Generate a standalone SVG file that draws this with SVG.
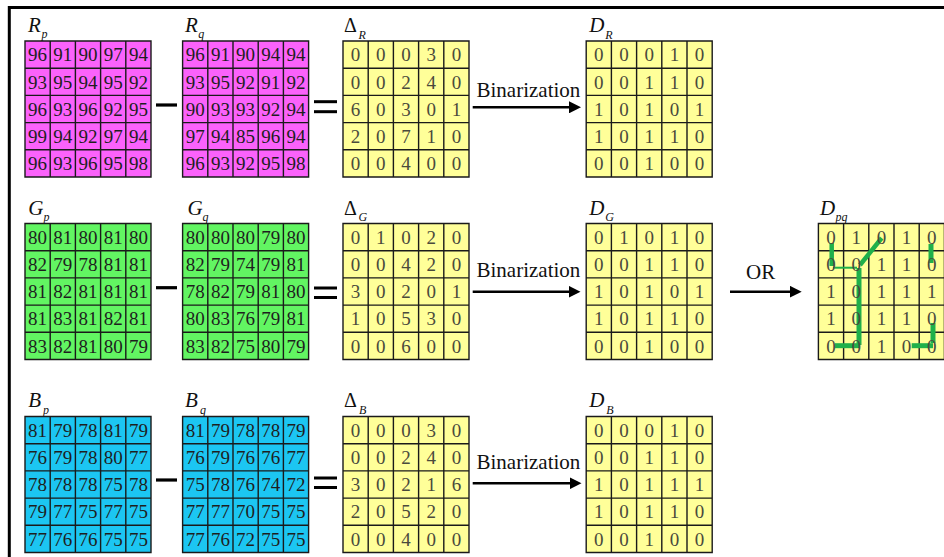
<svg xmlns="http://www.w3.org/2000/svg" xmlns:xlink="http://www.w3.org/1999/xlink" width="944" height="557" viewBox="0 0 944 557">
<style>
text{font-family:"Liberation Serif","Times New Roman",serif}
.num{font-size:19px;text-anchor:middle;fill:#1e1e1e}
.y .num{fill:#4a4a3c}
.lab{font-size:21px;font-style:italic;fill:#111}
.delta{font-size:20px;fill:#111}
.sub{font-size:12px;font-style:italic;fill:#111}
.gridl{fill:none;stroke:#1a1a1a;stroke-width:1.4}
.pink{fill:#fb62fb}.green{fill:#62f562}.blue{fill:#1cc6f2}.yellow{fill:#ffff99}
.op{stroke:#000;stroke-width:3.2}
.arrow{stroke:#000;stroke-width:2.6;fill:none;marker-end:url(#ah)}
.gp{stroke:#1fb04a;stroke-width:5;fill:none}
.cap{font-size:21px;fill:#111}
.frame{stroke:#000;stroke-width:3;fill:none}
</style>
<defs>
<path id="grid" class="gridl" d="M0,0H126V136H0Z M25.2,0V136 M50.4,0V136 M75.6,0V136 M100.8,0V136 M0,27.2H126 M0,54.4H126 M0,81.6H126 M0,108.8H126"/>
<marker id="ah" markerWidth="13" markerHeight="12" refX="2" refY="6" orient="auto" markerUnits="userSpaceOnUse"><path d="M0,0L12,6L0,12Z" fill="#000"/></marker>
</defs>
<rect width="944" height="557" fill="#fff"/>
<path class="frame" d="M9.3,557V7.5H944"/>

<!-- Row R -->
<g id="Rp" transform="translate(25,41)">
<rect class="pink" width="126" height="136"/>
<text class="lab" x="3" y="-9.3">R</text><text class="sub" x="16.5" y="-3">p</text>
<g class="num">
<text y="20.3"><tspan x="12.6">96</tspan><tspan x="37.8">91</tspan><tspan x="63">90</tspan><tspan x="88.2">97</tspan><tspan x="113.4">94</tspan></text>
<text y="47.5"><tspan x="12.6">93</tspan><tspan x="37.8">95</tspan><tspan x="63">94</tspan><tspan x="88.2">95</tspan><tspan x="113.4">92</tspan></text>
<text y="74.7"><tspan x="12.6">96</tspan><tspan x="37.8">93</tspan><tspan x="63">96</tspan><tspan x="88.2">92</tspan><tspan x="113.4">95</tspan></text>
<text y="101.9"><tspan x="12.6">99</tspan><tspan x="37.8">94</tspan><tspan x="63">92</tspan><tspan x="88.2">97</tspan><tspan x="113.4">94</tspan></text>
<text y="129.1"><tspan x="12.6">96</tspan><tspan x="37.8">93</tspan><tspan x="63">96</tspan><tspan x="88.2">95</tspan><tspan x="113.4">98</tspan></text>
</g>
<use xlink:href="#grid"/>
</g>
<g id="Rq" transform="translate(182.6,41)">
<rect class="pink" width="126" height="136"/>
<text class="lab" x="2.4" y="-9.3">R</text><text class="sub" x="15.7" y="-3">q</text>
<g class="num">
<text y="20.3"><tspan x="12.6">96</tspan><tspan x="37.8">91</tspan><tspan x="63">90</tspan><tspan x="88.2">94</tspan><tspan x="113.4">94</tspan></text>
<text y="47.5"><tspan x="12.6">93</tspan><tspan x="37.8">95</tspan><tspan x="63">92</tspan><tspan x="88.2">91</tspan><tspan x="113.4">92</tspan></text>
<text y="74.7"><tspan x="12.6">90</tspan><tspan x="37.8">93</tspan><tspan x="63">93</tspan><tspan x="88.2">92</tspan><tspan x="113.4">94</tspan></text>
<text y="101.9"><tspan x="12.6">97</tspan><tspan x="37.8">94</tspan><tspan x="63">85</tspan><tspan x="88.2">96</tspan><tspan x="113.4">94</tspan></text>
<text y="129.1"><tspan x="12.6">96</tspan><tspan x="37.8">93</tspan><tspan x="63">92</tspan><tspan x="88.2">95</tspan><tspan x="113.4">98</tspan></text>
</g>
<use xlink:href="#grid"/>
</g>
<g id="dR" class="y" transform="translate(343,41)">
<rect class="yellow" width="126" height="136"/>
<text class="delta" x="1" y="-9.3">Δ</text><text class="sub" x="15.5" y="-2.5">R</text>
<g class="num">
<text y="20.3"><tspan x="12.6">0</tspan><tspan x="37.8">0</tspan><tspan x="63">0</tspan><tspan x="88.2">3</tspan><tspan x="113.4">0</tspan></text>
<text y="47.5"><tspan x="12.6">0</tspan><tspan x="37.8">0</tspan><tspan x="63">2</tspan><tspan x="88.2">4</tspan><tspan x="113.4">0</tspan></text>
<text y="74.7"><tspan x="12.6">6</tspan><tspan x="37.8">0</tspan><tspan x="63">3</tspan><tspan x="88.2">0</tspan><tspan x="113.4">1</tspan></text>
<text y="101.9"><tspan x="12.6">2</tspan><tspan x="37.8">0</tspan><tspan x="63">7</tspan><tspan x="88.2">1</tspan><tspan x="113.4">0</tspan></text>
<text y="129.1"><tspan x="12.6">0</tspan><tspan x="37.8">0</tspan><tspan x="63">4</tspan><tspan x="88.2">0</tspan><tspan x="113.4">0</tspan></text>
</g>
<use xlink:href="#grid"/>
</g>
<g id="DR" class="y" transform="translate(586.2,41)">
<rect class="yellow" width="126" height="136"/>
<text class="lab" x="3.1" y="-9.3">D</text><text class="sub" x="19" y="-2.5">R</text>
<g class="num">
<text y="20.3"><tspan x="12.6">0</tspan><tspan x="37.8">0</tspan><tspan x="63">0</tspan><tspan x="88.2">1</tspan><tspan x="113.4">0</tspan></text>
<text y="47.5"><tspan x="12.6">0</tspan><tspan x="37.8">0</tspan><tspan x="63">1</tspan><tspan x="88.2">1</tspan><tspan x="113.4">0</tspan></text>
<text y="74.7"><tspan x="12.6">1</tspan><tspan x="37.8">0</tspan><tspan x="63">1</tspan><tspan x="88.2">0</tspan><tspan x="113.4">1</tspan></text>
<text y="101.9"><tspan x="12.6">1</tspan><tspan x="37.8">0</tspan><tspan x="63">1</tspan><tspan x="88.2">1</tspan><tspan x="113.4">0</tspan></text>
<text y="129.1"><tspan x="12.6">0</tspan><tspan x="37.8">0</tspan><tspan x="63">1</tspan><tspan x="88.2">0</tspan><tspan x="113.4">0</tspan></text>
</g>
<use xlink:href="#grid"/>
</g>

<!-- Row G -->
<g id="Gp" transform="translate(25,223.5)">
<rect class="green" width="126" height="136"/>
<text class="lab" x="3.3" y="-9">G</text><text class="sub" x="18.5" y="-3">p</text>
<g class="num">
<text y="20.3"><tspan x="12.6">80</tspan><tspan x="37.8">81</tspan><tspan x="63">80</tspan><tspan x="88.2">81</tspan><tspan x="113.4">80</tspan></text>
<text y="47.5"><tspan x="12.6">82</tspan><tspan x="37.8">79</tspan><tspan x="63">78</tspan><tspan x="88.2">81</tspan><tspan x="113.4">81</tspan></text>
<text y="74.7"><tspan x="12.6">81</tspan><tspan x="37.8">82</tspan><tspan x="63">81</tspan><tspan x="88.2">81</tspan><tspan x="113.4">81</tspan></text>
<text y="101.9"><tspan x="12.6">81</tspan><tspan x="37.8">83</tspan><tspan x="63">81</tspan><tspan x="88.2">82</tspan><tspan x="113.4">81</tspan></text>
<text y="129.1"><tspan x="12.6">83</tspan><tspan x="37.8">82</tspan><tspan x="63">81</tspan><tspan x="88.2">80</tspan><tspan x="113.4">79</tspan></text>
</g>
<use xlink:href="#grid"/>
</g>
<g id="Gq" transform="translate(182.6,223.5)">
<rect class="green" width="126" height="136"/>
<text class="lab" x="5" y="-9">G</text><text class="sub" x="20" y="-3">q</text>
<g class="num">
<text y="20.3"><tspan x="12.6">80</tspan><tspan x="37.8">80</tspan><tspan x="63">80</tspan><tspan x="88.2">79</tspan><tspan x="113.4">80</tspan></text>
<text y="47.5"><tspan x="12.6">82</tspan><tspan x="37.8">79</tspan><tspan x="63">74</tspan><tspan x="88.2">79</tspan><tspan x="113.4">81</tspan></text>
<text y="74.7"><tspan x="12.6">78</tspan><tspan x="37.8">82</tspan><tspan x="63">79</tspan><tspan x="88.2">81</tspan><tspan x="113.4">80</tspan></text>
<text y="101.9"><tspan x="12.6">80</tspan><tspan x="37.8">83</tspan><tspan x="63">76</tspan><tspan x="88.2">79</tspan><tspan x="113.4">81</tspan></text>
<text y="129.1"><tspan x="12.6">83</tspan><tspan x="37.8">82</tspan><tspan x="63">75</tspan><tspan x="88.2">80</tspan><tspan x="113.4">79</tspan></text>
</g>
<use xlink:href="#grid"/>
</g>
<g id="dG" class="y" transform="translate(343,223.5)">
<rect class="yellow" width="126" height="136"/>
<text class="delta" x="1" y="-9">Δ</text><text class="sub" x="15.5" y="-2.5">G</text>
<g class="num">
<text y="20.3"><tspan x="12.6">0</tspan><tspan x="37.8">1</tspan><tspan x="63">0</tspan><tspan x="88.2">2</tspan><tspan x="113.4">0</tspan></text>
<text y="47.5"><tspan x="12.6">0</tspan><tspan x="37.8">0</tspan><tspan x="63">4</tspan><tspan x="88.2">2</tspan><tspan x="113.4">0</tspan></text>
<text y="74.7"><tspan x="12.6">3</tspan><tspan x="37.8">0</tspan><tspan x="63">2</tspan><tspan x="88.2">0</tspan><tspan x="113.4">1</tspan></text>
<text y="101.9"><tspan x="12.6">1</tspan><tspan x="37.8">0</tspan><tspan x="63">5</tspan><tspan x="88.2">3</tspan><tspan x="113.4">0</tspan></text>
<text y="129.1"><tspan x="12.6">0</tspan><tspan x="37.8">0</tspan><tspan x="63">6</tspan><tspan x="88.2">0</tspan><tspan x="113.4">0</tspan></text>
</g>
<use xlink:href="#grid"/>
</g>
<g id="DG" class="y" transform="translate(586.2,223.5)">
<rect class="yellow" width="126" height="136"/>
<text class="lab" x="3.1" y="-9">D</text><text class="sub" x="19" y="-2.5">G</text>
<g class="num">
<text y="20.3"><tspan x="12.6">0</tspan><tspan x="37.8">1</tspan><tspan x="63">0</tspan><tspan x="88.2">1</tspan><tspan x="113.4">0</tspan></text>
<text y="47.5"><tspan x="12.6">0</tspan><tspan x="37.8">0</tspan><tspan x="63">1</tspan><tspan x="88.2">1</tspan><tspan x="113.4">0</tspan></text>
<text y="74.7"><tspan x="12.6">1</tspan><tspan x="37.8">0</tspan><tspan x="63">1</tspan><tspan x="88.2">0</tspan><tspan x="113.4">1</tspan></text>
<text y="101.9"><tspan x="12.6">1</tspan><tspan x="37.8">0</tspan><tspan x="63">1</tspan><tspan x="88.2">1</tspan><tspan x="113.4">0</tspan></text>
<text y="129.1"><tspan x="12.6">0</tspan><tspan x="37.8">0</tspan><tspan x="63">1</tspan><tspan x="88.2">0</tspan><tspan x="113.4">0</tspan></text>
</g>
<use xlink:href="#grid"/>
</g>
<g id="Dpq" class="y" transform="translate(818.4,223.5)">
<rect class="yellow" width="126" height="136"/>
<text class="lab" x="1.6" y="-9">D</text><text class="sub" x="17" y="-2.5">pq</text>
<use xlink:href="#grid"/>
<g class="gp">
<line x1="13.3" y1="19.5" x2="13.3" y2="42.5" stroke-width="4.5"/>
<line x1="14.6" y1="44.2" x2="38.6" y2="44.2" stroke-width="2"/>
<line x1="63.3" y1="14.5" x2="41.6" y2="41.5" stroke-width="4.5"/>
<line x1="40.6" y1="44.5" x2="40.6" y2="121.5"/>
<line x1="16.6" y1="122.2" x2="40.6" y2="122.2"/>
<line x1="112.6" y1="20.5" x2="112.6" y2="39.5"/>
<line x1="114.6" y1="99.5" x2="114.6" y2="119.5"/>
<line x1="93.3" y1="122.2" x2="114.6" y2="122.2"/>
</g>
<g class="num">
<text y="20.3"><tspan x="12.6">0</tspan><tspan x="37.8">1</tspan><tspan x="63">0</tspan><tspan x="88.2">1</tspan><tspan x="113.4">0</tspan></text>
<text y="47.5"><tspan x="12.6">0</tspan><tspan x="37.8">0</tspan><tspan x="63">1</tspan><tspan x="88.2">1</tspan><tspan x="113.4">0</tspan></text>
<text y="74.7"><tspan x="12.6">1</tspan><tspan x="37.8">0</tspan><tspan x="63">1</tspan><tspan x="88.2">1</tspan><tspan x="113.4">1</tspan></text>
<text y="101.9"><tspan x="12.6">1</tspan><tspan x="37.8">0</tspan><tspan x="63">1</tspan><tspan x="88.2">1</tspan><tspan x="113.4">0</tspan></text>
<text y="129.1"><tspan x="12.6">0</tspan><tspan x="37.8">0</tspan><tspan x="63">1</tspan><tspan x="88.2">0</tspan><tspan x="113.4">0</tspan></text>
</g>
</g>

<!-- Row B -->
<g id="Bp" transform="translate(25,416.5)">
<rect class="blue" width="126" height="136"/>
<text class="lab" x="3.3" y="-9.5">B</text><text class="sub" x="18" y="-3">p</text>
<g class="num">
<text y="20.3"><tspan x="12.6">81</tspan><tspan x="37.8">79</tspan><tspan x="63">78</tspan><tspan x="88.2">81</tspan><tspan x="113.4">79</tspan></text>
<text y="47.5"><tspan x="12.6">76</tspan><tspan x="37.8">79</tspan><tspan x="63">78</tspan><tspan x="88.2">80</tspan><tspan x="113.4">77</tspan></text>
<text y="74.7"><tspan x="12.6">78</tspan><tspan x="37.8">78</tspan><tspan x="63">78</tspan><tspan x="88.2">75</tspan><tspan x="113.4">78</tspan></text>
<text y="101.9"><tspan x="12.6">79</tspan><tspan x="37.8">77</tspan><tspan x="63">75</tspan><tspan x="88.2">77</tspan><tspan x="113.4">75</tspan></text>
<text y="129.1"><tspan x="12.6">77</tspan><tspan x="37.8">76</tspan><tspan x="63">76</tspan><tspan x="88.2">75</tspan><tspan x="113.4">75</tspan></text>
</g>
<use xlink:href="#grid"/>
</g>
<g id="Bq" transform="translate(182.6,416.5)">
<rect class="blue" width="126" height="136"/>
<text class="lab" x="2.4" y="-9.5">B</text><text class="sub" x="17.5" y="-3">q</text>
<g class="num">
<text y="20.3"><tspan x="12.6">81</tspan><tspan x="37.8">79</tspan><tspan x="63">78</tspan><tspan x="88.2">78</tspan><tspan x="113.4">79</tspan></text>
<text y="47.5"><tspan x="12.6">76</tspan><tspan x="37.8">79</tspan><tspan x="63">76</tspan><tspan x="88.2">76</tspan><tspan x="113.4">77</tspan></text>
<text y="74.7"><tspan x="12.6">75</tspan><tspan x="37.8">78</tspan><tspan x="63">76</tspan><tspan x="88.2">74</tspan><tspan x="113.4">72</tspan></text>
<text y="101.9"><tspan x="12.6">77</tspan><tspan x="37.8">77</tspan><tspan x="63">70</tspan><tspan x="88.2">75</tspan><tspan x="113.4">75</tspan></text>
<text y="129.1"><tspan x="12.6">77</tspan><tspan x="37.8">76</tspan><tspan x="63">72</tspan><tspan x="88.2">75</tspan><tspan x="113.4">75</tspan></text>
</g>
<use xlink:href="#grid"/>
</g>
<g id="dB" class="y" transform="translate(343,416.5)">
<rect class="yellow" width="126" height="136"/>
<text class="delta" x="1" y="-9.5">Δ</text><text class="sub" x="16" y="-2.5">B</text>
<g class="num">
<text y="20.3"><tspan x="12.6">0</tspan><tspan x="37.8">0</tspan><tspan x="63">0</tspan><tspan x="88.2">3</tspan><tspan x="113.4">0</tspan></text>
<text y="47.5"><tspan x="12.6">0</tspan><tspan x="37.8">0</tspan><tspan x="63">2</tspan><tspan x="88.2">4</tspan><tspan x="113.4">0</tspan></text>
<text y="74.7"><tspan x="12.6">3</tspan><tspan x="37.8">0</tspan><tspan x="63">2</tspan><tspan x="88.2">1</tspan><tspan x="113.4">6</tspan></text>
<text y="101.9"><tspan x="12.6">2</tspan><tspan x="37.8">0</tspan><tspan x="63">5</tspan><tspan x="88.2">2</tspan><tspan x="113.4">0</tspan></text>
<text y="129.1"><tspan x="12.6">0</tspan><tspan x="37.8">0</tspan><tspan x="63">4</tspan><tspan x="88.2">0</tspan><tspan x="113.4">0</tspan></text>
</g>
<use xlink:href="#grid"/>
</g>
<g id="DB" class="y" transform="translate(586.2,416.5)">
<rect class="yellow" width="126" height="136"/>
<text class="lab" x="3.1" y="-9.5">D</text><text class="sub" x="20" y="-2.5">B</text>
<g class="num">
<text y="20.3"><tspan x="12.6">0</tspan><tspan x="37.8">0</tspan><tspan x="63">0</tspan><tspan x="88.2">1</tspan><tspan x="113.4">0</tspan></text>
<text y="47.5"><tspan x="12.6">0</tspan><tspan x="37.8">0</tspan><tspan x="63">1</tspan><tspan x="88.2">1</tspan><tspan x="113.4">0</tspan></text>
<text y="74.7"><tspan x="12.6">1</tspan><tspan x="37.8">0</tspan><tspan x="63">1</tspan><tspan x="88.2">1</tspan><tspan x="113.4">1</tspan></text>
<text y="101.9"><tspan x="12.6">1</tspan><tspan x="37.8">0</tspan><tspan x="63">1</tspan><tspan x="88.2">1</tspan><tspan x="113.4">0</tspan></text>
<text y="129.1"><tspan x="12.6">0</tspan><tspan x="37.8">0</tspan><tspan x="63">1</tspan><tspan x="88.2">0</tspan><tspan x="113.4">0</tspan></text>
</g>
<use xlink:href="#grid"/>
</g>

<!-- operators -->
<g id="operators" class="op">
<line x1="156" y1="105" x2="177" y2="105"/>
<line x1="314" y1="101.7" x2="337" y2="101.7" stroke-width="3"/>
<line x1="314" y1="111.7" x2="337" y2="111.7" stroke-width="3"/>
<line x1="156" y1="287.7" x2="177" y2="287.7"/>
<line x1="314" y1="288" x2="337" y2="288" stroke-width="3"/>
<line x1="314" y1="297.5" x2="337" y2="297.5" stroke-width="3"/>
<line x1="156" y1="480" x2="177" y2="480"/>
<line x1="314" y1="478" x2="337" y2="478" stroke-width="3"/>
<line x1="314" y1="487.5" x2="337" y2="487.5" stroke-width="3"/>
</g>

<!-- connectors -->
<g id="connectors">
<line class="arrow" x1="472.7" y1="107.3" x2="571" y2="107.3"/>
<text class="cap" x="476.5" y="96.7">Binarization</text>
<line class="arrow" x1="472.7" y1="291.7" x2="570.5" y2="291.7"/>
<text class="cap" x="476.5" y="277.3">Binarization</text>
<line class="arrow" x1="472.7" y1="483.3" x2="571.5" y2="483.3"/>
<text class="cap" x="476.5" y="469.3">Binarization</text>
<line class="arrow" x1="730" y1="291.7" x2="791.7" y2="291.7"/>
<text class="cap" x="746" y="279.3">OR</text>
</g>
</svg>
